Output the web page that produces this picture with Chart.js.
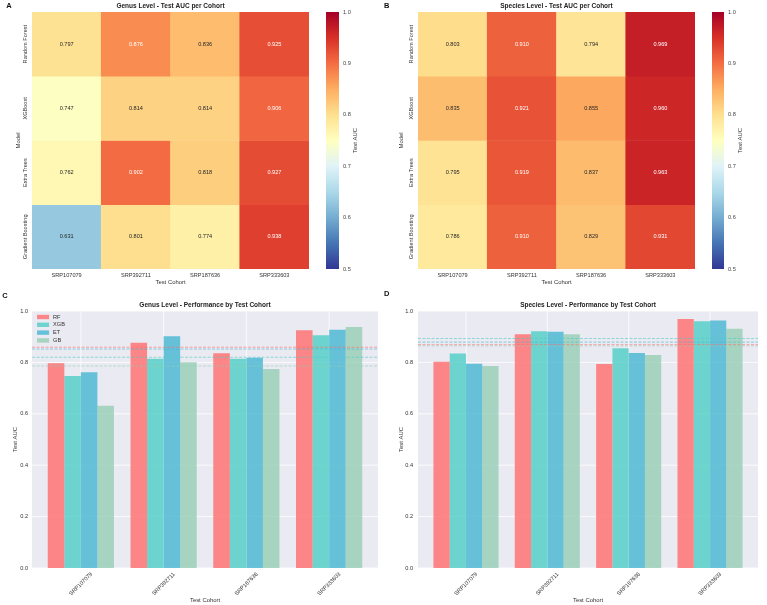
<!DOCTYPE html>
<html>
<head>
<meta charset="utf-8">
<script src="https://cdn.jsdelivr.net/npm/chart.js@4/dist/chart.umd.min.js"></script>
<style>
body { margin: 0; background: #fff; }
#fig { position: relative; width: 767px; height: 605px; overflow: hidden; }
canvas { position: absolute; }
</style>
</head>
<body>
<div id="fig">
  <canvas id="heatA" width="318" height="290" style="left:0;top:0"></canvas>
  <canvas id="cbA" width="62" height="290" style="left:318px;top:0"></canvas>
  <canvas id="heatB" width="323" height="290" style="left:380px;top:0"></canvas>
  <canvas id="cbB" width="63" height="290" style="left:703px;top:0"></canvas>
  <canvas id="barC" width="385" height="315" style="left:0;top:290px"></canvas>
  <canvas id="barD" width="387" height="315" style="left:380px;top:290px"></canvas>
</div>
<script>
var cohorts = ["SRP107079", "SRP392711", "SRP187636", "SRP333603"];
var models = ["Random Forest", "XGBoost", "Extra Trees", "Gradient Boosting"];
var shortNames = ["RF", "XGB", "ET", "GB"];

var genusRF  = [0.797, 0.876, 0.836, 0.925];
var genusXGB = [0.747, 0.814, 0.814, 0.906];
var genusET  = [0.762, 0.902, 0.818, 0.927];
var genusGB  = [0.631, 0.801, 0.774, 0.938];

var speciesRF  = [0.803, 0.910, 0.794, 0.969];
var speciesXGB = [0.835, 0.921, 0.855, 0.960];
var speciesET  = [0.795, 0.919, 0.837, 0.963];
var speciesGB  = [0.786, 0.910, 0.829, 0.931];

// dashed reference lines (model means), order RF, XGB, ET, GB
var genusMeans   = [0.859, 0.820, 0.852, 0.786];
var speciesMeans = [0.869, 0.893, 0.879, 0.864];

var cbTicks  = [0.5, 0.6, 0.7, 0.8, 0.9, 1.0];
var aucTicks = [0.0, 0.2, 0.4, 0.6, 0.8, 1.0];

var fam = '"Liberation Sans", Arial, Helvetica, sans-serif';
Chart.defaults.font.family = fam;
Chart.defaults.animation = false;

var rdylbu = ["#313695", "#4575b4", "#74add1", "#abd9e9", "#e0f3f8", "#ffffbf",
              "#fee090", "#fdae61", "#f46d43", "#d73027", "#a50026"];
var barColors = ["rgba(255,107,107,0.8)", "rgba(78,205,196,0.8)", "rgba(69,183,209,0.8)", "rgba(150,206,180,0.8)"];
var meanColors = ["rgba(255,107,107,0.6)", "rgba(78,205,196,0.6)", "rgba(69,183,209,0.6)", "rgba(150,206,180,0.6)"];

function hexRgb(h) {
    return [parseInt(h.substr(1, 2), 16), parseInt(h.substr(3, 2), 16), parseInt(h.substr(5, 2), 16)];
}

function cmap(v) {
    var t = Math.max(0, Math.min(1, (v - 0.5) / 0.5));
    var p = t * 10;
    var i = Math.min(9, Math.floor(p));
    var f = p - i;
    var a = hexRgb(rdylbu[i]), b = hexRgb(rdylbu[i + 1]);
    return [a[0] + (b[0] - a[0]) * f, a[1] + (b[1] - a[1]) * f, a[2] + (b[2] - a[2]) * f];
}

function rgbStr(c) {
    return "rgb(" + Math.round(c[0]) + "," + Math.round(c[1]) + "," + Math.round(c[2]) + ")";
}

function lum(c) {
    var l = c.map(function(x) {
        x = x / 255;
        return x <= 0.03928 ? x / 12.92 : Math.pow((x + 0.055) / 1.055, 2.4);
    });
    return 0.2126 * l[0] + 0.7152 * l[1] + 0.0722 * l[2];
}

function drawText(ctx, text, x, y, font, color, rot) {
    ctx.save();
    ctx.translate(x, y);
    if (rot) ctx.rotate(rot);
    ctx.font = font;
    ctx.fillStyle = color;
    ctx.textAlign = "center";
    ctx.textBaseline = "middle";
    ctx.fillText(text, 0, 0);
    ctx.restore();
}

var titleFont = "bold 6.5px " + fam;
var letterFont = "bold 7.5px " + fam;
var labelFont = "5.9px " + fam;
var tickFont = "5.6px " + fam;

function makeHeatmap(id, rows, p) {
    var datasets = rows.map(function(vals, m) {
        return {
            label: models[m],
            data: vals.map(function() { return 1; }),
            backgroundColor: vals.map(function(v) { return rgbStr(cmap(v)); }),
            borderWidth: 0,
            categoryPercentage: 1,
            barPercentage: 1
        };
    });

    new Chart(document.getElementById(id), {
        type: "bar",
        data: { labels: cohorts, datasets: datasets },
        options: {
            responsive: false,
            animation: false,
            layout: { padding: { top: p.top, right: p.right, left: 0, bottom: 0 } },
            scales: {
                x: {
                    stacked: true,
                    grid: { display: false, drawTicks: false },
                    border: { display: false },
                    ticks: { display: false },
                    afterFit: function(s) { s.height = p.xh; }
                },
                y: {
                    stacked: true, reverse: true, min: 0, max: 4,
                    grid: { display: false, drawTicks: false },
                    border: { display: false },
                    ticks: { display: false },
                    afterFit: function(s) { s.width = p.yw; }
                }
            },
            plugins: { legend: { display: false }, tooltip: { enabled: false } }
        },
        plugins: [{
            id: "heatText",
            afterDatasetsDraw: function(chart) {
                var ctx = chart.ctx;
                rows.forEach(function(vals, m) {
                    chart.getDatasetMeta(m).data.forEach(function(bar, c) {
                        var v = vals[c];
                        var col = lum(cmap(v)) > 0.408 ? "#262626" : "#ffffff";
                        drawText(ctx, v.toFixed(3), bar.x, (bar.y + bar.base) / 2, tickFont, col);
                    });
                });
            },
            afterDraw: function(chart) {
                var ctx = chart.ctx, a = chart.chartArea;
                var xs = chart.scales.x, ys = chart.scales.y;
                drawText(ctx, p.title, (a.left + a.right) / 2, a.top - 6, titleFont, "#222");
                drawText(ctx, p.letter, p.letterX, 6, letterFont, "#111");
                cohorts.forEach(function(c, i) {
                    drawText(ctx, c, xs.getPixelForValue(i), a.bottom + 6.3, tickFont, "#333");
                });
                drawText(ctx, "Test Cohort", (a.left + a.right) / 2, a.bottom + 13, labelFont, "#333");
                models.forEach(function(m, i) {
                    drawText(ctx, m, p.ytickX, ys.getPixelForValue(i + 0.5), tickFont, "#333", -Math.PI / 2);
                });
                drawText(ctx, "Model", p.ylabX, (a.top + a.bottom) / 2, labelFont, "#333", -Math.PI / 2);
            }
        }]
    });
}

function makeColorbar(id, p) {
    new Chart(document.getElementById(id), {
        type: "bar",
        data: {
            labels: [""],
            datasets: [{
                data: [[cbTicks[0], cbTicks[cbTicks.length - 1]]],
                backgroundColor: function(c) {
                    var a = c.chart.chartArea;
                    if (!a) return rgbStr(cmap(0.75));
                    var g = c.chart.ctx.createLinearGradient(0, a.bottom, 0, a.top);
                    rdylbu.forEach(function(h, i) { g.addColorStop(i / 10, h); });
                    return g;
                },
                borderWidth: 0,
                categoryPercentage: 1,
                barPercentage: 1
            }]
        },
        options: {
            responsive: false,
            animation: false,
            layout: { padding: { left: p.left, top: 12, bottom: 21, right: 0 } },
            scales: {
                x: { display: false },
                y: {
                    position: "right",
                    min: cbTicks[0], max: cbTicks[cbTicks.length - 1],
                    afterBuildTicks: function(s) { s.ticks = cbTicks.map(function(v) { return { value: v }; }); },
                    ticks: {
                        callback: function(v) { return Number(v).toFixed(1); },
                        font: { size: 5.6 }, color: "#444", padding: 4
                    },
                    grid: { display: false, drawTicks: false },
                    border: { display: false },
                    afterFit: function(s) { s.width = p.yw; }
                }
            },
            plugins: { legend: { display: false }, tooltip: { enabled: false } }
        },
        plugins: [{
            id: "cbTitle",
            afterDraw: function(chart) {
                var a = chart.chartArea;
                drawText(chart.ctx, "Test AUC", p.titleX, (a.top + a.bottom) / 2, labelFont, "#333", -Math.PI / 2);
            }
        }]
    });
}

function makeBars(id, series, means, p) {
    var datasets = series.map(function(vals, i) {
        return {
            label: shortNames[i],
            data: vals,
            backgroundColor: barColors[i],
            borderWidth: 0,
            categoryPercentage: 0.8,
            barPercentage: 1
        };
    });

    function bgBox(chart) {
        var a = chart.chartArea;
        var ext = 0.09 * (a.right - a.left) / cohorts.length;
        return { left: a.left - ext, right: a.right + ext, top: a.top, bottom: a.bottom };
    }

    new Chart(document.getElementById(id), {
        type: "bar",
        data: { labels: cohorts, datasets: datasets },
        options: {
            responsive: false,
            animation: false,
            layout: { padding: { top: 21, right: p.right, left: 0, bottom: 0 } },
            scales: {
                x: {
                    grid: { display: false, drawTicks: false },
                    border: { display: false },
                    ticks: { display: false },
                    afterFit: function(s) { s.height = p.xh; }
                },
                y: {
                    min: 0, max: 1,
                    afterBuildTicks: function(s) { s.ticks = aucTicks.map(function(v) { return { value: v }; }); },
                    ticks: {
                        callback: function(v) { return Number(v).toFixed(1); },
                        font: { size: 5.6 }, color: "#333", padding: p.tpad
                    },
                    grid: { display: false, drawTicks: false },
                    border: { display: false },
                    afterFit: function(s) { s.width = p.yw; }
                }
            },
            plugins: { legend: { display: false }, tooltip: { enabled: false } }
        },
        plugins: [{
            id: "darkgrid",
            beforeDatasetsDraw: function(chart) {
                var ctx = chart.ctx, b = bgBox(chart);
                var xs = chart.scales.x, ys = chart.scales.y;
                ctx.save();
                ctx.fillStyle = "#eaeaf2";
                ctx.fillRect(b.left, b.top, b.right - b.left, b.bottom - b.top);
                ctx.strokeStyle = "#ffffff";
                ctx.lineWidth = 0.8;
                aucTicks.forEach(function(v) {
                    var y = ys.getPixelForValue(v);
                    ctx.beginPath(); ctx.moveTo(b.left, y); ctx.lineTo(b.right, y); ctx.stroke();
                });
                cohorts.forEach(function(c, i) {
                    var x = xs.getPixelForValue(i);
                    ctx.beginPath(); ctx.moveTo(x, b.top); ctx.lineTo(x, b.bottom); ctx.stroke();
                });
                ctx.restore();
            },
            afterDatasetsDraw: function(chart) {
                var ctx = chart.ctx, b = bgBox(chart), ys = chart.scales.y;
                ctx.save();
                ctx.lineWidth = 1;
                ctx.setLineDash([3, 1.5]);
                means.forEach(function(v, i) {
                    var y = ys.getPixelForValue(v);
                    ctx.strokeStyle = meanColors[i];
                    ctx.beginPath(); ctx.moveTo(b.left, y); ctx.lineTo(b.right, y); ctx.stroke();
                });
                ctx.restore();
            },
            afterDraw: function(chart) {
                var ctx = chart.ctx, a = chart.chartArea, b = bgBox(chart);
                var xs = chart.scales.x;
                var cx = (b.left + b.right) / 2;
                drawText(ctx, p.title, cx, a.top - 6, titleFont, "#222");
                drawText(ctx, p.letter, p.letterX, p.letterY, letterFont, "#111");
                cohorts.forEach(function(c, i) {
                    drawText(ctx, c, xs.getPixelForValue(i), a.bottom + 16, tickFont, "#333", -Math.PI / 4);
                });
                drawText(ctx, "Test Cohort", cx, a.bottom + 32, labelFont, "#333");
                drawText(ctx, "Test AUC", p.ylabX, (a.top + a.bottom) / 2, labelFont, "#333", -Math.PI / 2);
                if (p.legend) {
                    chart.data.datasets.forEach(function(ds, i) {
                        var y = a.top + 6 + i * 7.8;
                        ctx.fillStyle = ds.backgroundColor;
                        ctx.fillRect(b.left + 5, y - 2.2, 12, 4.4);
                        ctx.save();
                        ctx.font = tickFont;
                        ctx.fillStyle = "#333";
                        ctx.textAlign = "left";
                        ctx.textBaseline = "middle";
                        ctx.fillText(ds.label, b.left + 21, y);
                        ctx.restore();
                    });
                }
            }
        }]
    });
}

makeHeatmap("heatA", [genusRF, genusXGB, genusET, genusGB], {
    top: 12, right: 9, xh: 21, yw: 32,
    title: "Genus Level - Test AUC per Cohort", letter: "A", letterX: 9,
    ytickX: 25.3, ylabX: 18.3
});
makeColorbar("cbA", { left: 8, yw: 41, titleX: 37 });

makeHeatmap("heatB", [speciesRF, speciesXGB, speciesET, speciesGB], {
    top: 12, right: 8, xh: 21, yw: 38,
    title: "Species Level - Test AUC per Cohort", letter: "B", letterX: 6.7,
    ytickX: 31.7, ylabX: 21.7
});
makeColorbar("cbB", { left: 9, yw: 42, titleX: 37.7 });

makeBars("barC", [genusRF, genusXGB, genusET, genusGB], genusMeans, {
    right: 14.5, xh: 37, yw: 39.5, tpad: 11.5,
    title: "Genus Level - Performance by Test Cohort", letter: "C", letterX: 5, letterY: 5.7,
    ylabX: 15, legend: true
});
makeBars("barD", [speciesRF, speciesXGB, speciesET, speciesGB], speciesMeans, {
    right: 16.3, xh: 37, yw: 45.3, tpad: 12.3,
    title: "Species Level - Performance by Test Cohort", letter: "D", letterX: 6.7, letterY: 4,
    ylabX: 21.7, legend: false
});
</script>
</body>
</html>
